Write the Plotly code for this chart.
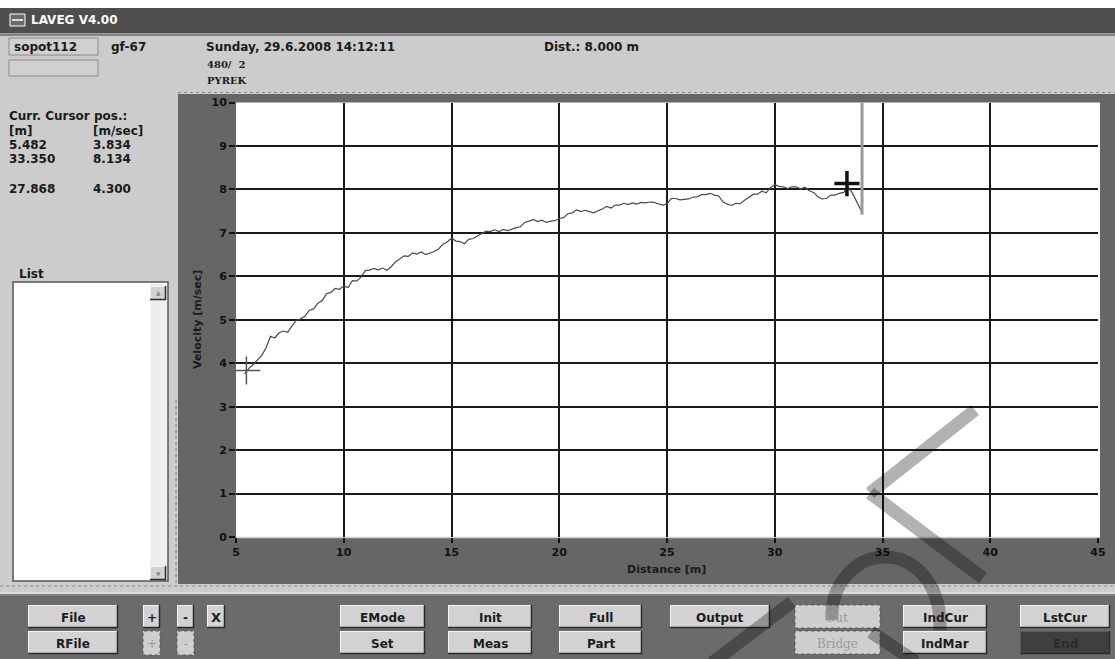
import plotly.graph_objects as go

W, H = 1115, 659

# ---------------- data ----------------
distance_m = [5.4, 5.6, 5.8, 6.0, 6.2, 6.4, 6.6, 6.8, 7.0, 7.2, 7.4, 7.6, 7.8, 8.0, 8.2, 8.4, 8.6, 8.8,
              9.0, 9.2, 9.4, 9.6, 9.8, 10.0, 10.2, 10.4, 10.6, 10.8, 11.0, 11.2, 11.4, 11.6, 11.8,
              12.0, 12.2, 12.4, 12.6, 12.8, 13.0, 13.2, 13.4, 13.6, 13.8, 14.0, 14.2, 14.4, 14.6,
              14.8, 15.0, 15.2, 15.4, 15.6, 15.8, 16.0, 16.2, 16.4, 16.6, 16.8, 17.0, 17.2, 17.4,
              17.6, 17.8, 18.0, 18.2, 18.4, 18.6, 18.8, 19.0, 19.2, 19.4, 19.6, 19.8, 20.0, 20.2,
              20.4, 20.6, 20.8, 21.0, 21.2, 21.4, 21.6, 21.8, 22.0, 22.2, 22.4, 22.6, 22.8, 23.0,
              23.2, 23.4, 23.6, 23.8, 24.0, 24.2, 24.4, 24.6, 24.8, 25.0, 25.2, 25.4, 25.6, 25.8,
              26.0, 26.2, 26.4, 26.6, 26.8, 27.0, 27.2, 27.4, 27.6, 27.8, 28.0, 28.2, 28.4, 28.6,
              28.8, 29.0, 29.2, 29.4, 29.6, 29.8, 30.0, 30.2, 30.4, 30.6, 30.8, 31.0, 31.2, 31.4,
              31.6, 31.8, 32.0, 32.2, 32.4, 32.6, 32.8, 33.0, 33.2, 33.4, 33.6, 33.8, 34.0, 34.05]
velocity_ms = [3.75, 3.88, 3.97, 4.08, 4.18, 4.36, 4.62, 4.58, 4.70, 4.74, 4.71, 4.86, 4.99, 5.02, 5.08,
               5.22, 5.25, 5.38, 5.44, 5.60, 5.63, 5.72, 5.70, 5.78, 5.74, 5.90, 5.89, 5.98, 6.13,
               6.14, 6.18, 6.15, 6.19, 6.14, 6.22, 6.33, 6.40, 6.47, 6.46, 6.54, 6.51, 6.56, 6.50,
               6.54, 6.57, 6.63, 6.74, 6.79, 6.88, 6.81, 6.80, 6.75, 6.85, 6.87, 6.93, 6.97, 7.04,
               7.03, 7.07, 7.03, 7.08, 7.05, 7.09, 7.12, 7.14, 7.24, 7.27, 7.31, 7.26, 7.29, 7.24,
               7.27, 7.28, 7.33, 7.35, 7.44, 7.46, 7.53, 7.49, 7.52, 7.49, 7.46, 7.51, 7.55, 7.61,
               7.57, 7.64, 7.64, 7.68, 7.65, 7.69, 7.66, 7.70, 7.69, 7.71, 7.70, 7.67, 7.64, 7.67,
               7.79, 7.79, 7.76, 7.77, 7.78, 7.82, 7.83, 7.88, 7.88, 7.91, 7.87, 7.85, 7.71, 7.66,
               7.63, 7.68, 7.67, 7.75, 7.83, 7.89, 7.89, 7.96, 7.92, 8.04, 8.11, 8.07, 8.06, 8.02,
               8.06, 8.06, 8.01, 8.05, 7.97, 7.93, 7.83, 7.78, 7.79, 7.87, 7.87, 7.91, 7.93, 8.06,
               7.92, 7.70, 7.52, 7.42]

cursor_x = [5.482, 33.350]
cursor_y = [3.834, 8.134]
extra_cursor = (27.868, 4.300)
end_line_x = 34.05

x_ticks = [5, 10, 15, 20, 25, 30, 35, 40, 45]
y_ticks = [0, 1, 2, 3, 4, 5, 6, 7, 8, 9, 10]

header_name = "sopot112"
header_id = "gf-67"
header_date = "Sunday, 29.6.2008 14:12:11"
header_dist = "Dist.: 8.000 m"
header_line2 = "480/  2"
header_line3 = "PYREK"

buttons_row1 = ["File", "EMode", "Init", "Full", "Output", "Cut", "IndCur", "LstCur"]
buttons_row2 = ["RFile", "Set", "Meas", "Part", "", "Bridge", "IndMar", "End"]

UI_FONT = "DejaVu Sans, Verdana, sans-serif"

# ---------------- helpers (pixel -> paper) ----------------
def X(px):
    return px / W

def Y(py):
    return 1 - py / H

shapes = []
annotations = []

def rect(x0, y0, x1, y1, fill, line="rgba(0,0,0,0)", lw=0, dash="solid", layer="below"):
    shapes.append(dict(type="rect", xref="paper", yref="paper", x0=X(x0), x1=X(x1), y0=Y(y1), y1=Y(y0),
                       fillcolor=fill, line=dict(color=line, width=lw, dash=dash), layer=layer))

def seg(x0, y0, x1, y1, color, lw=1, dash="solid", layer="below"):
    shapes.append(dict(type="line", xref="paper", yref="paper", x0=X(x0), x1=X(x1), y0=Y(y0), y1=Y(y1),
                       line=dict(color=color, width=lw, dash=dash), layer=layer))

def hline(x0, x1, y, color, lw=1, dash="solid", layer="below"):
    seg(x0, y, x1, y, color, lw, dash, layer)

def vline(x, y0, y1, color, lw=1, dash="solid", layer="below"):
    seg(x, y0, x, y1, color, lw, dash, layer)

def text(px, py, s, size=12, color="#1a1a1a", anchor="left", bold=True, family=UI_FONT, angle=0):
    annotations.append(dict(xref="paper", yref="paper", x=X(px), y=Y(py), text=s, showarrow=False,
                            xanchor=anchor, yanchor="middle", textangle=angle,
                            font=dict(size=size, color=color, family=family,
                                      weight="bold" if bold else "normal")))

def button(x0, y0, x1, y1, label, disabled=False, dark=False, size=12):
    if disabled:
        rect(x0, y0, x1, y1, "#cfcfcf", "#5a5a5a", 1, "dot")
        if label:
            text((x0 + x1) / 2, (y0 + y1) / 2 + 1, label, size, "#9a9a9a", "center", False,
                 "DejaVu Serif, serif")
        return
    fill = "#3f3f3f" if dark else "#d2d2d2"
    rect(x0, y0, x1, y1, fill)
    hline(x0, x1, y0 + 0.5, "#f4f4f4" if not dark else "#5a5a5a", 1)
    vline(x0 + 0.5, y0, y1, "#f4f4f4" if not dark else "#5a5a5a", 1)
    hline(x0, x1, y1 - 0.5, "#2a2a2a", 1.5)
    vline(x1 - 0.5, y0, y1, "#2a2a2a", 1.5)
    if label:
        text((x0 + x1) / 2, (y0 + y1) / 2 + 1, label, size, "#2b2b2b" if dark else "#1c1c1c", "center")

# ---------------- window chrome ----------------
rect(0, 0, W, 8, "#ffffff")
rect(0, 8, W, 33, "#4e4e4e")
hline(0, W, 33.5, "#9a9a9a", 1)
hline(0, W, 35, "#3a3a3a", 1)
rect(10, 14, 25, 26, "#6a6a6a", "#ffffff", 1)
hline(12, 23, 20, "#ffffff", 1.5)
text(29, 20.5, "LAVEG V4.00", 12, "#ffffff", "left", True)

# header
rect(9, 38, 98, 55, "#d0d0d0", "#8a8a8a", 1)
text(12, 46.5, header_name, 12, "#1a1a1a")
rect(9, 60, 98, 76, "#d0d0d0", "#8a8a8a", 1)
text(109, 46.5, header_id, 12)
text(204, 46.5, header_date, 12)
text(542, 46.5, header_dist, 12)
text(205, 64, header_line2, 10, "#1a1a1a", "left", True, "DejaVu Serif, serif")
text(205, 81, header_line3, 10, "#1a1a1a", "left", True, "DejaVu Serif, serif")

# left panel cursor readout
text(7, 116, "Curr. Cursor pos.:", 12)
text(7, 131, "[m]", 12)
text(91, 131, "[m/sec]", 12)
text(7, 145, f"{cursor_x[0]:.3f}", 12)
text(91, 145, f"{cursor_y[0]:.3f}", 12)
text(7, 159, f"{cursor_x[1]:.3f}", 12)
text(91, 159, f"{cursor_y[1]:.3f}", 12)
text(7, 189, f"{extra_cursor[0]:.3f}", 12)
text(91, 189, f"{extra_cursor[1]:.3f}", 12)

# list box
text(17, 274, "List", 12)
rect(13, 282, 168, 581, "#ffffff", "#555555", 1.5)
rect(150, 284, 167, 580, "#eeeeee")
button(150, 286, 166, 300, "")
text(158, 293, "▲", 6, "#888888", "center", False)
button(150, 566, 166, 580, "")
text(158, 573, "▼", 6, "#888888", "center", False)
vline(176, 400, 586, "#777777", 1, "dot")

# plot frame
rect(178, 94, W, 584, "#666666")
rect(236, 102.5, 1100, 537, "#ffffff")
hline(236, 1100, 537.5, "#cfcfcf", 1.5)
hline(178, W, 92.5, "#888888", 1, "dot")
hline(0, W, 586, "#888888", 1, "dot")

# toolbar
rect(0, 594, W, H, "#6b6b6b")
hline(0, W, 593, "#e8e8e8", 1)
hline(0, W, 595, "#9a9a9a", 1)

bx = [(28, 118), (340, 425), (448, 532), (559, 642), (670, 770), (795, 880), (903, 987), (1020, 1110)]
for i, (a, b) in enumerate(bx):
    button(a, 605, b, 628, buttons_row1[i], disabled=(buttons_row1[i] == "Cut"))
    if buttons_row2[i]:
        button(a, 631, b, 654, buttons_row2[i], disabled=(buttons_row2[i] == "Bridge"),
               dark=(buttons_row2[i] == "End"))

button(143, 605, 160, 628, "+")
button(177, 605, 194, 628, "-")
button(207, 605, 225, 628, "X", size=13)
button(143, 631, 160, 655, "+", disabled=True)
button(177, 631, 194, 655, "-", disabled=True)

# axis titles
text(666, 569, "Distance [m]", 11, anchor="center")
text(197, 320, "Velocity [m/sec]", 11, anchor="center", angle=-90)

# watermark strokes (semi-transparent, drawn on top)
wm = "rgba(0,0,0,0.30)"
seg(870, 493, 983, 578, wm, 13, layer="above")
seg(870, 493, 975, 410, wm, 13, layer="above")
seg(712, 663, 792, 602, wm, 13, layer="above")
seg(871, 632, 916, 662, wm, 13, layer="above")
arc = "M {} {} C {} {} {} {} {} {} C {} {} {} {} {} {}".format(
    X(832), Y(620), X(830), Y(585), X(855), Y(557), X(885), Y(557),
    X(915), Y(557), X(942), Y(585), X(940), Y(630))
shapes.append(dict(type="path", xref="paper", yref="paper", path=arc,
                   line=dict(color=wm, width=13), layer="above"))

# ---------------- figure ----------------
fig = go.Figure()
fig.add_trace(go.Scatter(x=distance_m, y=velocity_ms, mode="lines",
                         line=dict(color="#4a4a4a", width=1.2), hoverinfo="skip", showlegend=False))
# end-of-measurement vertical cursor line
shapes.append(dict(type="line", xref="x", yref="y", x0=end_line_x, x1=end_line_x,
                   y0=velocity_ms[-1], y1=10, line=dict(color="#9a9a9a", width=3), layer="above"))
# cursors
fig.add_trace(go.Scatter(x=[cursor_x[0]], y=[cursor_y[0]], mode="markers",
                         marker=dict(symbol="cross-thin", size=20, line=dict(color="#555555", width=1.5)),
                         hoverinfo="skip", showlegend=False))
fig.add_trace(go.Scatter(x=[cursor_x[1]], y=[cursor_y[1]], mode="markers",
                         marker=dict(symbol="cross-thin", size=18, line=dict(color="#111111", width=3.5)),
                         hoverinfo="skip", showlegend=False))

tickfont = dict(family="DejaVu Sans, Verdana", size=11, color="#111111", weight="bold")
fig.update_layout(
    width=W, height=H, margin=dict(l=0, r=0, t=0, b=0, autoexpand=False),
    paper_bgcolor="#cccccc", plot_bgcolor="#ffffff",
    shapes=shapes, annotations=annotations,
    xaxis=dict(domain=[X(236), X(1098)], range=[5, 45], tickvals=x_ticks, ticks="outside",
               ticklen=5, tickcolor="#111111", tickwidth=1.5, showgrid=True, gridcolor="#1a1a1a",
               gridwidth=1.5, zeroline=False, showline=False, tickfont=tickfont, fixedrange=True,
               automargin=False),
    yaxis=dict(domain=[Y(537), Y(102.5)], range=[0, 10], tickvals=y_ticks, ticks="outside",
               ticklen=6, tickcolor="#111111", tickwidth=1.5, showgrid=True, gridcolor="#1a1a1a",
               gridwidth=1.5, zeroline=False, showline=False, tickfont=tickfont, fixedrange=True,
               automargin=False),
)
fig.write_html("out.html", config={"displayModeBar": False},
               post_script="document.body.style.margin='0';document.body.style.overflow='hidden';")
